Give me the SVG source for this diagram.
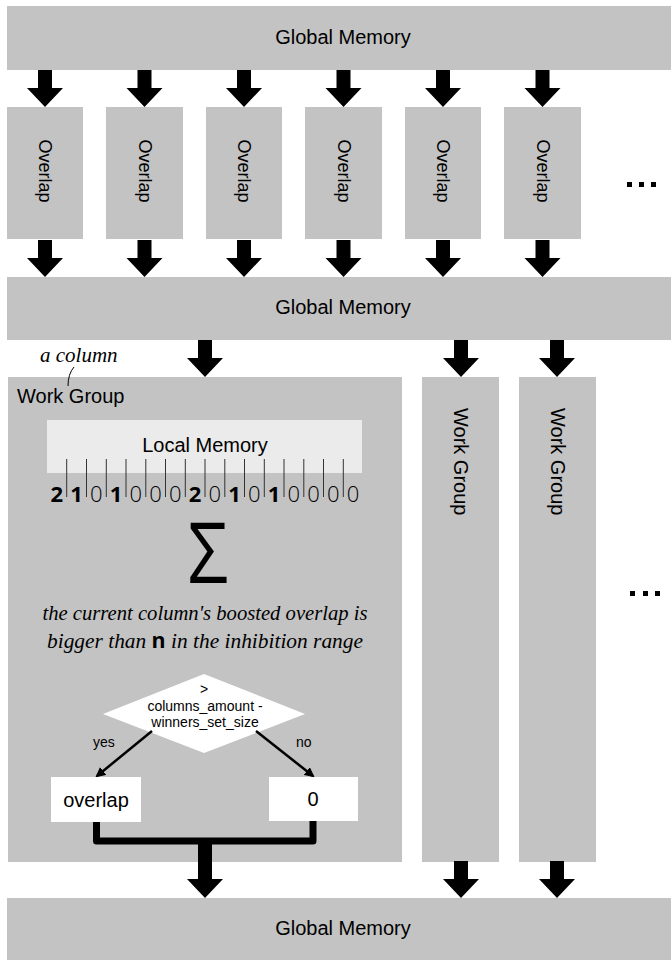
<svg xmlns="http://www.w3.org/2000/svg" xmlns:xlink="http://www.w3.org/1999/xlink" width="671" height="961" viewBox="0 0 671 961">
<defs>
<style>
.box{fill:#c3c3c3}
.wbox{fill:#ffffff}
.lbl{font-family:"Liberation Sans",Arial,sans-serif;font-size:20px;fill:#000}
.ov{font-family:"Liberation Sans",Arial,sans-serif;font-size:18px;fill:#000}
.small{font-family:"Liberation Sans",Arial,sans-serif;font-size:14px;fill:#000}
.ital{font-family:"Liberation Serif","Times New Roman",serif;font-style:italic;fill:#000}
.dig{font-family:"Open Sans","DejaVu Sans",sans-serif;font-size:22px;fill:#000;text-anchor:middle}
.dig0{font-weight:300}
.dig1{font-weight:700}
.arrow{fill:#000}
.bar{stroke:#333;stroke-width:1}
.dots{fill:#000}
</style>
<path id="arr" d="M-7,-37 H7 V-19 H18 L0,0 L-18,-19 H-7 Z"/>
<marker id="ah" viewBox="0 0 10 10" refX="8" refY="5" markerWidth="4" markerHeight="4" orient="auto">
<path d="M0,0 L10,5 L0,10 Z" fill="#000"/>
</marker>
</defs>
<rect width="671" height="961" fill="#ffffff"/>

<g id="global-memory-top">
<rect class="box" x="7" y="6" width="664" height="64"/>
<text class="lbl" x="343" y="44" text-anchor="middle">Global Memory</text>
</g>

<g id="overlap-1"><rect class="box" x="7" y="107" width="76" height="132"/><text class="ov" transform="translate(45,171) rotate(90)" text-anchor="middle" dy="6">Overlap</text></g>
<g id="overlap-2"><rect class="box" x="106" y="107" width="77" height="132"/><text class="ov" transform="translate(144.5,171) rotate(90)" text-anchor="middle" dy="6">Overlap</text></g>
<g id="overlap-3"><rect class="box" x="206" y="107" width="76" height="132"/><text class="ov" transform="translate(244,171) rotate(90)" text-anchor="middle" dy="6">Overlap</text></g>
<g id="overlap-4"><rect class="box" x="305" y="107" width="77" height="132"/><text class="ov" transform="translate(343.5,171) rotate(90)" text-anchor="middle" dy="6">Overlap</text></g>
<g id="overlap-5"><rect class="box" x="405" y="107" width="76" height="132"/><text class="ov" transform="translate(443,171) rotate(90)" text-anchor="middle" dy="6">Overlap</text></g>
<g id="overlap-6"><rect class="box" x="504" y="107" width="77" height="132"/><text class="ov" transform="translate(542.5,171) rotate(90)" text-anchor="middle" dy="6">Overlap</text></g>

<g id="ellipsis-top">
<rect class="dots" x="627" y="182" width="5" height="5"/>
<rect class="dots" x="639" y="182" width="5" height="5"/>
<rect class="dots" x="651" y="182" width="5" height="5"/>
</g>

<g id="global-memory-middle">
<rect class="box" x="7" y="277" width="664" height="63"/>
<text class="lbl" x="343" y="314" text-anchor="middle">Global Memory</text>
</g>

<g id="work-group-1">
<rect class="box" x="8" y="377" width="394" height="485"/>
<text class="lbl" x="17" y="403">Work Group</text>
<text class="ital" x="40" y="362" font-size="21">a column</text>
<path d="M74,367 Q68,374 68,386" fill="none" stroke="#000" stroke-width="1"/>
</g>

<g id="local-memory">
<rect x="47" y="420" width="315" height="53" fill="#ebebeb"/>
<text class="lbl" x="205" y="452" text-anchor="middle">Local Memory</text>
<g>
<line class="bar" x1="66.7" y1="459" x2="66.7" y2="497"/>
<line class="bar" x1="86.5" y1="459" x2="86.5" y2="497"/>
<line class="bar" x1="106.3" y1="459" x2="106.3" y2="497"/>
<line class="bar" x1="126" y1="459" x2="126" y2="497"/>
<line class="bar" x1="145.8" y1="459" x2="145.8" y2="497"/>
<line class="bar" x1="165.5" y1="459" x2="165.5" y2="497"/>
<line class="bar" x1="185.3" y1="459" x2="185.3" y2="497"/>
<line class="bar" x1="205" y1="459" x2="205" y2="497"/>
<line class="bar" x1="224.8" y1="459" x2="224.8" y2="497"/>
<line class="bar" x1="244.5" y1="459" x2="244.5" y2="497"/>
<line class="bar" x1="264.3" y1="459" x2="264.3" y2="497"/>
<line class="bar" x1="284" y1="459" x2="284" y2="497"/>
<line class="bar" x1="303.8" y1="459" x2="303.8" y2="497"/>
<line class="bar" x1="323.5" y1="459" x2="323.5" y2="497"/>
<line class="bar" x1="343.3" y1="459" x2="343.3" y2="497"/>
</g>
<text class="dig dig1" x="56.8" y="502">2</text>
<text class="dig dig1" x="76.6" y="502">1</text>
<text class="dig dig0" x="96.4" y="502">0</text>
<text class="dig dig1" x="116.1" y="502">1</text>
<text class="dig dig0" x="135.9" y="502">0</text>
<text class="dig dig0" x="155.6" y="502">0</text>
<text class="dig dig0" x="175.4" y="502">0</text>
<text class="dig dig1" x="195.1" y="502">2</text>
<text class="dig dig0" x="214.9" y="502">0</text>
<text class="dig dig1" x="234.6" y="502">1</text>
<text class="dig dig0" x="254.4" y="502">0</text>
<text class="dig dig1" x="274.1" y="502">1</text>
<text class="dig dig0" x="293.9" y="502">0</text>
<text class="dig dig0" x="313.6" y="502">0</text>
<text class="dig dig0" x="333.4" y="502">0</text>
<text class="dig dig0" x="353.1" y="502">0</text>
</g>

<g id="sum">
<text x="0" y="0" font-family="'Open Sans','DejaVu Sans',sans-serif" font-size="84" text-anchor="middle" transform="translate(208,583) scale(0.85,1)">Σ</text>
<text class="ital" x="205" y="620" font-size="21" text-anchor="middle" textLength="325" lengthAdjust="spacingAndGlyphs">the current column's boosted overlap is</text>
<text class="ital" x="205" y="648" font-size="21" text-anchor="middle" textLength="316" lengthAdjust="spacingAndGlyphs">bigger than <tspan font-family="'Open Sans',sans-serif" font-style="normal" font-weight="700">n</tspan> in the inhibition range</text>
</g>

<g id="decision">
<polygon class="wbox" points="204,674 305,714 204,753 103,714"/>
<text class="small" x="204" y="694" text-anchor="middle" font-size="17">&gt;</text>
<text class="small" x="205" y="711" text-anchor="middle">columns_amount -</text>
<text class="small" x="205" y="727" text-anchor="middle">winners_set_size</text>
</g>

<g id="result-overlap">
<rect class="wbox" x="51" y="777" width="90" height="45"/>
<text class="lbl" x="96" y="807" text-anchor="middle">overlap</text>
</g>
<g id="result-zero">
<rect class="wbox" x="269" y="777" width="89" height="44"/>
<text class="lbl" x="313" y="806" text-anchor="middle">0</text>
</g>

<g id="work-group-2">
<rect class="box" x="422" y="377" width="77" height="485"/>
<text class="lbl" transform="translate(454,408) rotate(90)">Work Group</text>
</g>
<g id="work-group-3">
<rect class="box" x="519" y="377" width="77" height="485"/>
<text class="lbl" transform="translate(551,408) rotate(90)">Work Group</text>
</g>

<g id="ellipsis-mid">
<rect class="dots" x="630" y="591" width="5" height="5"/>
<rect class="dots" x="643" y="591" width="5" height="5"/>
<rect class="dots" x="655" y="591" width="5" height="5"/>
</g>

<g id="global-memory-bottom">
<rect class="box" x="7" y="898" width="664" height="62"/>
<text class="lbl" x="343" y="935" text-anchor="middle">Global Memory</text>
</g>

<g id="connectors">
<use xlink:href="#arr" class="arrow" x="45" y="107"/>
<use xlink:href="#arr" class="arrow" x="144.5" y="107"/>
<use xlink:href="#arr" class="arrow" x="244" y="107"/>
<use xlink:href="#arr" class="arrow" x="343.5" y="107"/>
<use xlink:href="#arr" class="arrow" x="443" y="107"/>
<use xlink:href="#arr" class="arrow" x="542.5" y="107"/>
<use xlink:href="#arr" class="arrow" x="45" y="277"/>
<use xlink:href="#arr" class="arrow" x="144.5" y="277"/>
<use xlink:href="#arr" class="arrow" x="244" y="277"/>
<use xlink:href="#arr" class="arrow" x="343.5" y="277"/>
<use xlink:href="#arr" class="arrow" x="443" y="277"/>
<use xlink:href="#arr" class="arrow" x="542.5" y="277"/>
<use xlink:href="#arr" class="arrow" x="205" y="377"/>
<use xlink:href="#arr" class="arrow" x="461" y="377"/>
<use xlink:href="#arr" class="arrow" x="557" y="377"/>
<use xlink:href="#arr" class="arrow" x="461" y="898"/>
<use xlink:href="#arr" class="arrow" x="557" y="898"/>
<line x1="152" y1="731" x2="97" y2="776" stroke="#000" stroke-width="2.5" marker-end="url(#ah)"/>
<line x1="256" y1="731" x2="313" y2="776" stroke="#000" stroke-width="2.5" marker-end="url(#ah)"/>
<text class="small" x="93" y="747">yes</text>
<text class="small" x="296" y="747">no</text>
<path d="M96.5,822 V841 H313 V821" fill="none" stroke="#000" stroke-width="7" stroke-linejoin="round"/>
<path class="arrow" d="M198,841 H212 V879 H223 L205,898 L187,879 H198 Z"/>
</g>
</svg>
